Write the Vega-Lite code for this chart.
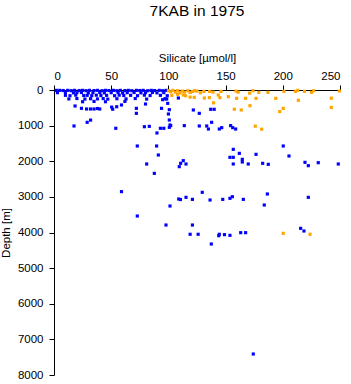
{
  "$schema": "https://vega.github.io/schema/vega-lite/v6.json",
  "width": 286,
  "height": 285,
  "autosize": {"type": "none"},
  "padding": {"left": 54, "top": 90, "right": 11, "bottom": 9},
  "background": "white",
  "title": {"text": "7KAB in 1975", "font": "Liberation Sans", "fontSize": 15.5, "fontWeight": "normal", "color": "black", "anchor": "middle", "offset": 33},
  "config": {
    "view": {"stroke": null},
    "axis": {"grid": false, "domainColor": "black", "tickColor": "black", "labelColor": "black", "titleColor": "black", "labelFont": "Liberation Sans", "titleFont": "Liberation Sans", "labelFontSize": 11.5, "titleFontSize": 11.5, "titleFontWeight": "normal", "tickSize": 5, "domainWidth": 1, "tickWidth": 1}
  },
  "data": {"values": [
    {"s":2,"d":10,"f":"b"},{"s":5,"d":10,"f":"b"},{"s":8,"d":15,"f":"b"},{"s":12,"d":10,"f":"b"},{"s":15,"d":20,"f":"b"},{"s":18,"d":10,"f":"b"},{"s":22,"d":15,"f":"b"},{"s":25,"d":10,"f":"b"},{"s":28,"d":20,"f":"b"},{"s":31,"d":10,"f":"b"},{"s":35,"d":15,"f":"b"},{"s":38,"d":10,"f":"b"},{"s":42,"d":20,"f":"b"},{"s":45,"d":10,"f":"b"},{"s":48,"d":15,"f":"b"},{"s":52,"d":10,"f":"b"},{"s":55,"d":20,"f":"b"},{"s":58,"d":10,"f":"b"},{"s":62,"d":15,"f":"b"},{"s":65,"d":10,"f":"b"},{"s":68,"d":20,"f":"b"},{"s":72,"d":10,"f":"b"},{"s":75,"d":15,"f":"b"},{"s":78,"d":10,"f":"b"},{"s":82,"d":20,"f":"b"},{"s":85,"d":10,"f":"b"},{"s":88,"d":15,"f":"b"},{"s":92,"d":10,"f":"b"},{"s":95,"d":20,"f":"b"},{"s":98,"d":10,"f":"b"},
    {"s":3,"d":75,"f":"b"},{"s":10,"d":70,"f":"b"},{"s":17,"d":80,"f":"b"},{"s":20,"d":75,"f":"b"},{"s":24,"d":70,"f":"b"},{"s":30,"d":80,"f":"b"},{"s":34,"d":75,"f":"b"},{"s":40,"d":70,"f":"b"},{"s":44,"d":80,"f":"b"},{"s":50,"d":75,"f":"b"},{"s":56,"d":70,"f":"b"},{"s":60,"d":80,"f":"b"},{"s":64,"d":75,"f":"b"},{"s":70,"d":70,"f":"b"},{"s":76,"d":80,"f":"b"},{"s":80,"d":75,"f":"b"},{"s":86,"d":70,"f":"b"},{"s":90,"d":80,"f":"b"},{"s":96,"d":75,"f":"b"},
    {"s":10,"d":150,"f":"b"},{"s":14,"d":160,"f":"b"},{"s":19,"d":145,"f":"b"},{"s":26,"d":155,"f":"b"},{"s":29,"d":150,"f":"b"},{"s":33,"d":160,"f":"b"},{"s":37,"d":145,"f":"b"},{"s":41,"d":155,"f":"b"},{"s":46,"d":150,"f":"b"},{"s":53,"d":160,"f":"b"},{"s":57,"d":145,"f":"b"},{"s":61,"d":155,"f":"b"},{"s":67,"d":150,"f":"b"},{"s":73,"d":160,"f":"b"},{"s":79,"d":145,"f":"b"},{"s":84,"d":155,"f":"b"},{"s":93,"d":150,"f":"b"},{"s":99,"d":160,"f":"b"},
    {"s":13,"d":250,"f":"b"},{"s":20,"d":240,"f":"b"},{"s":27,"d":255,"f":"b"},{"s":32,"d":245,"f":"b"},{"s":38,"d":250,"f":"b"},{"s":43,"d":240,"f":"b"},{"s":47,"d":255,"f":"b"},{"s":55,"d":245,"f":"b"},{"s":63,"d":250,"f":"b"},{"s":71,"d":240,"f":"b"},{"s":81,"d":255,"f":"b"},{"s":97,"d":245,"f":"b"},
    {"s":25,"d":330,"f":"b"},{"s":35,"d":320,"f":"b"},{"s":45,"d":330,"f":"b"},{"s":62,"d":320,"f":"b"},
    {"s":17.5,"d":1010,"f":"b"},{"s":29,"d":907,"f":"b"},{"s":32,"d":845,"f":"b"},{"s":18.4,"d":449,"f":"b"},{"s":24,"d":515,"f":"b"},{"s":28.5,"d":533,"f":"b"},{"s":32,"d":533,"f":"b"},{"s":35,"d":533,"f":"b"},{"s":38,"d":520,"f":"b"},{"s":40,"d":533,"f":"b"},{"s":50.4,"d":480,"f":"b"},
    {"s":51.3,"d":540,"f":"b"},{"s":54.8,"d":470,"f":"b"},{"s":59,"d":420,"f":"b"},{"s":72,"d":515,"f":"b"},{"s":72,"d":655,"f":"b"},{"s":80,"d":393,"f":"b"},{"s":94,"d":515,"f":"b"},{"s":95,"d":272,"f":"b"},{"s":98.5,"d":253,"f":"b"},{"s":99.4,"d":375,"f":"b"},{"s":100.8,"d":552,"f":"b"},{"s":100,"d":674,"f":"b"},{"s":100.8,"d":842,"f":"b"},{"s":102,"d":1000,"f":"b"},{"s":100.8,"d":1048,"f":"b"},{"s":101.4,"d":983,"f":"b"},
    {"s":54,"d":1075,"f":"b"},{"s":79,"d":1030,"f":"b"},{"s":83.3,"d":1020,"f":"b"},{"s":90,"d":1207,"f":"b"},{"s":93,"d":1075,"f":"b"},{"s":96,"d":1075,"f":"b"},
    {"s":72.8,"d":1572,"f":"b"},{"s":89.7,"d":1572,"f":"b"},{"s":91.2,"d":1825,"f":"b"},{"s":81,"d":2077,"f":"b"},{"s":87.7,"d":2340,"f":"b"},{"s":59,"d":2853,"f":"b"},{"s":72.8,"d":3537,"f":"b"},{"s":97.9,"d":3790,"f":"b"},{"s":101.4,"d":3256,"f":"b"},{"s":109.5,"d":2152,"f":"b"},{"s":110.7,"d":2058,"f":"b"},{"s":113,"d":1983,"f":"b"},{"s":115.4,"d":2077,"f":"b"},
    {"s":109,"d":3060,"f":"b"},{"s":110.5,"d":3075,"f":"b"},{"s":115.4,"d":3013,"f":"b"},{"s":121,"d":3070,"f":"b"},{"s":121,"d":3790,"f":"b"},{"s":119,"d":4050,"f":"b"},{"s":126,"d":4050,"f":"b"},
    {"s":156.7,"d":1666,"f":"b"},{"s":153.8,"d":1890,"f":"b"},{"s":156.7,"d":1890,"f":"b"},{"s":162,"d":1778,"f":"b"},{"s":164.6,"d":1946,"f":"b"},{"s":164.6,"d":2021,"f":"b"},{"s":156.7,"d":2077,"f":"b"},{"s":169.8,"d":2077,"f":"b"},{"s":176.6,"d":1806,"f":"b"},{"s":182.4,"d":2058,"f":"b"},{"s":187.3,"d":2086,"f":"b"},{"s":200.4,"d":1572,"f":"b"},{"s":205.4,"d":1853,"f":"b"},{"s":219.4,"d":2030,"f":"b"},{"s":222.3,"d":2124,"f":"b"},{"s":231,"d":2040,"f":"b"},{"s":248.5,"d":2077,"f":"b"},
    {"s":129.6,"d":2872,"f":"b"},{"s":136.4,"d":3088,"f":"b"},{"s":147.5,"d":3070,"f":"b"},{"s":153.8,"d":3041,"f":"b"},{"s":155.9,"d":2995,"f":"b"},{"s":165.5,"d":3070,"f":"b"},{"s":186.5,"d":2919,"f":"b"},{"s":183.8,"d":3228,"f":"b"},{"s":222.3,"d":3013,"f":"b"},{"s":144.5,"d":4050,"f":"b"},{"s":144,"d":4090,"f":"b"},{"s":149,"d":4060,"f":"b"},{"s":153.8,"d":4080,"f":"b"},{"s":163.2,"d":4005,"f":"b"},{"s":167.5,"d":4005,"f":"b"},{"s":215.6,"d":3883,"f":"b"},{"s":218.5,"d":3958,"f":"b"},{"s":137.5,"d":4323,"f":"b"},{"s":174.2,"d":7411,"f":"b"},
    {"s":121.8,"d":561,"f":"b"},{"s":127,"d":655,"f":"b"},{"s":137,"d":542,"f":"b"},{"s":140,"d":542,"f":"b"},{"s":113.9,"d":1000,"f":"b"},{"s":127,"d":1010,"f":"b"},{"s":133.5,"d":1010,"f":"b"},{"s":135,"d":1095,"f":"b"},{"s":137.8,"d":907,"f":"b"},{"s":144.5,"d":1095,"f":"b"},{"s":146.6,"d":1057,"f":"b"},{"s":154.4,"d":1000,"f":"b"},{"s":156.2,"d":1057,"f":"b"},{"s":158.8,"d":1095,"f":"b"},{"s":108.7,"d":225,"f":"b"},
    {"s":100,"d":20,"f":"o"},{"s":102,"d":50,"f":"o"},{"s":104,"d":10,"f":"o"},{"s":106,"d":60,"f":"o"},{"s":108,"d":20,"f":"o"},{"s":110,"d":80,"f":"o"},{"s":112,"d":30,"f":"o"},{"s":114,"d":60,"f":"o"},{"s":117,"d":20,"f":"o"},{"s":119,"d":70,"f":"o"},{"s":121,"d":40,"f":"o"},{"s":123,"d":20,"f":"o"},{"s":125,"d":30,"f":"o"},{"s":128,"d":80,"f":"o"},{"s":131,"d":40,"f":"o"},{"s":136,"d":40,"f":"o"},{"s":139,"d":60,"f":"o"},{"s":146,"d":40,"f":"o"},{"s":159,"d":30,"f":"o"},{"s":161,"d":60,"f":"o"},{"s":171,"d":90,"f":"o"},{"s":174,"d":20,"f":"o"},{"s":179,"d":66,"f":"o"},{"s":187,"d":66,"f":"o"},{"s":201,"d":37,"f":"o"},{"s":211,"d":37,"f":"o"},{"s":213,"d":10,"f":"o"},{"s":219,"d":37,"f":"o"},{"s":225,"d":66,"f":"o"},{"s":227,"d":20,"f":"o"},{"s":249.4,"d":28,"f":"o"},
    {"s":103,"d":150,"f":"o"},{"s":108,"d":120,"f":"o"},{"s":113,"d":140,"f":"o"},{"s":115,"d":160,"f":"o"},{"s":119,"d":200,"f":"o"},{"s":122.6,"d":206,"f":"o"},{"s":131.4,"d":225,"f":"o"},{"s":135.8,"d":215,"f":"o"},{"s":143.6,"d":140,"f":"o"},{"s":145,"d":215,"f":"o"},{"s":152.4,"d":187,"f":"o"},{"s":159.7,"d":234,"f":"o"},{"s":167.5,"d":234,"f":"o"},{"s":176.6,"d":234,"f":"o"},{"s":193.8,"d":234,"f":"o"},
    {"s":139.5,"d":360,"f":"o"},{"s":171.3,"d":440,"f":"o"},{"s":157.6,"d":540,"f":"o"},{"s":163.7,"d":561,"f":"o"},{"s":213.6,"d":290,"f":"o"},{"s":200.4,"d":515,"f":"o"},{"s":197.3,"d":605,"f":"o"},{"s":242.4,"d":230,"f":"o"},{"s":242.4,"d":490,"f":"o"},{"s":176,"d":1015,"f":"o"},{"s":181.5,"d":1100,"f":"o"},{"s":200.4,"d":4023,"f":"o"},{"s":223.8,"d":4050,"f":"o"}
  ]},
  "mark": {"type": "point", "shape": "square", "filled": true, "size": 10, "opacity": 1},
  "encoding": {
    "x": {"field": "s", "type": "quantitative", "scale": {"domain": [0, 250], "nice": false}, "axis": {"orient": "top", "title": "Silicate [µmol/l]", "values": [0, 50, 100, 150, 200, 250], "labelPadding": 4, "titlePadding": 7}},
    "y": {"field": "d", "type": "quantitative", "scale": {"domain": [0, 8000], "reverse": true, "nice": false}, "axis": {"title": "Depth [m]", "values": [0, 1000, 2000, 3000, 4000, 5000, 6000, 7000, 8000], "format": "d", "labelPadding": 6, "titlePadding": 6}},
    "color": {"field": "f", "type": "nominal", "scale": {"domain": ["b", "o"], "range": ["#0000ff", "#ffa500"]}, "legend": null}
  }
}
